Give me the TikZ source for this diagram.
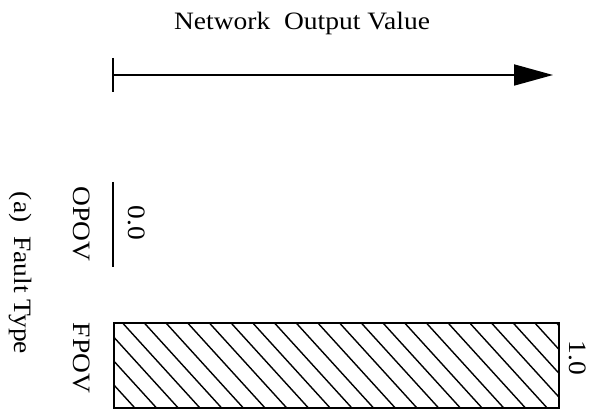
\documentclass[tikz,border=0pt]{standalone}
\usepackage{fontspec}
\setmainfont{Liberation Serif}[FakeStretch=1.1]
\usetikzlibrary{arrows.meta}
\begin{document}
\begin{tikzpicture}[x=1pt,y=-1pt,
  lbl/.style={inner sep=0pt,font=\fontsize{25}{29}\selectfont},
  vlbl/.style={lbl,rotate=-90},
  axis/.style={line width=1.8pt},
  hatchline/.style={line width=1.4pt},
  barbox/.style={draw,line width=1.8pt}]
\useasboundingbox (0,0) rectangle (603,409);
% title and axis
\node[lbl] (title) at (302,23) {Network\ \ Output Value};
\coordinate (a0) at (113,75);
\coordinate (a1) at (553,75);
\coordinate (t0) at (113,58);
\coordinate (t1) at (113,92);
\draw[axis] (t0) -- (t1);
\draw[axis,-{Triangle[length=39pt,width=21pt]}] (a0) -- (a1);
% OPOV
\coordinate (o0) at (113,182);
\coordinate (o1) at (113,267);
\draw[axis] (o0) -- (o1);
\node[vlbl] (zero) at (137,223) {0.0};
\node[vlbl] (opov) at (82,224) {OPOV};
\node[vlbl] (fault) at (20,273) {(a)\ \ Fault Type};
% FPOV
\node[vlbl] (fpov) at (82,358) {FPOV};
\node[vlbl] (one) at (578,358) {1.0};
\begin{scope}
\clip (113,322) rectangle (558,407);
\foreach \i in {-5,...,21} {
  \draw[hatchline] (121.7+\i*21.7-91,322-100) -- ++(273,300);
}
\end{scope}
\node[barbox,minimum width=445pt,minimum height=85pt,inner sep=0pt,anchor=north west] (bar) at (113,322) {};
\end{tikzpicture}
\end{document}
